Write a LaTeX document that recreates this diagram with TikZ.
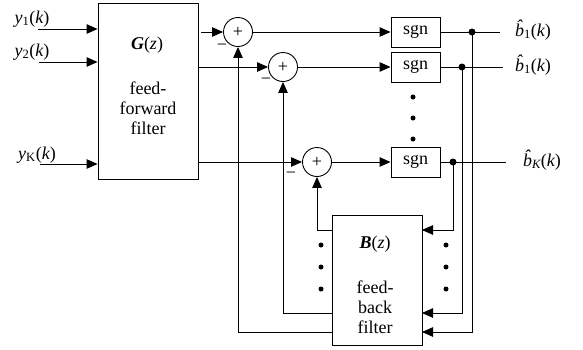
\documentclass[tikz,border=0pt]{standalone}
\usepackage{fontspec}
\setmainfont{Liberation Serif}
\usetikzlibrary{arrows.meta}
\begin{document}
\begin{tikzpicture}[x=1pt,y=-1pt,
  font=\fontsize{18}{20}\selectfont,
  ln/.style={line width=0.9pt},
  arr/.style={ln,-{Triangle[length=11pt,width=9.5pt]}},
  block/.style={draw,line width=0.9pt,inner sep=0pt},
  sumnode/.style={draw,circle,minimum size=29pt,inner sep=0pt,line width=0.9pt},
  tap/.style={circle,fill,inner sep=0pt,minimum size=7pt},
  vdot/.style={circle,fill,inner sep=0pt,minimum size=5pt},
  lbl/.style={inner sep=0pt}]
\useasboundingbox (0,0) rectangle (583,349);

% blocks
\node[block,minimum width=100pt,minimum height=176pt] (G) at (148,91) {};
\node[block,minimum width=90pt,minimum height=130pt] (B) at (377,280) {};
\node[lbl] (Gt) at (147,45) {{\bfseries\itshape G}({\itshape z})};
\node[lbl,align=center] (Gf) at (148,108) {feed-\\forward\\filter};
\node[lbl] (Bt) at (375,244) {{\bfseries\itshape B}({\itshape z})};
\node[lbl,align=center] (Bf) at (375,307) {feed-\\back\\filter};

% summing junctions
\node[sumnode] (s1) at (238,32) {+};
\node[sumnode] (s2) at (283,67) {+};
\node[sumnode] (s3) at (317,162) {+};
\node[lbl] (m1) at (222,47) {−};
\node[lbl] (m2) at (266,81) {−};
\node[lbl] (m3) at (291,175) {−};

% sgn blocks
\node[block,minimum width=49pt,minimum height=30pt] (g1) at (415.5,32) {sgn};
\node[block,minimum width=49pt,minimum height=30pt] (g2) at (415.5,67) {sgn};
\node[block,minimum width=49pt,minimum height=30pt] (g3) at (415.5,162) {sgn};

% taps
\node[tap] (t1) at (472,32) {};
\node[tap] (t2) at (462,67) {};
\node[tap] (t3) at (453,162) {};

% inputs
\coordinate (i1) at (38,29);
\coordinate (i2) at (39,62);
\coordinate (i3) at (40,164);
\draw[arr] (i1) -- (i1 -| G.west);
\draw[arr] (i2) -- (i2 -| G.west);
\draw[arr] (i3) -- (i3 -| G.west);
\node[lbl] (y1) at (32,19) {{\itshape y}\textsubscript{1}({\itshape k})};
\node[lbl] (y2) at (32,52) {{\itshape y}\textsubscript{2}({\itshape k})};
\node[lbl] (y3) at (37,155) {{\itshape y}\textsubscript{K}({\itshape k})};

% G outputs to sums
\coordinate (o1) at (201,32);
\draw[arr] (o1) -- (s1);
\draw[arr] (G.east |- s2) -- (s2);
\draw[arr] (G.east |- s3) -- (s3);

% sums to sgn
\draw[arr] (s1) -- (g1);
\draw[arr] (s2) -- (g2);
\draw[arr] (s3) -- (g3);

% outputs
\coordinate (e1) at (500,32);
\coordinate (e2) at (503,67);
\coordinate (e3) at (506,162);
\draw[ln] (g1) -- (e1);
\draw[ln] (g2) -- (e2);
\draw[ln] (g3) -- (e3);
\node[lbl] (b1) at (533,30) {{\itshape\^{b}}\textsubscript{1}({\itshape k})};
\node[lbl] (b2) at (533,65) {{\itshape\^{b}}\textsubscript{1}({\itshape k})};
\node[lbl] (b3) at (542,160) {{\itshape\^{b}}\textsubscript{\itshape K}({\itshape k})};

% feedback into B
\coordinate (bi3) at (422,230);
\coordinate (bi2) at (422,313);
\coordinate (bi1) at (422,332);
\draw[arr] (t3.center) |- (bi3);
\draw[arr] (t2.center) |- (bi2);
\draw[arr] (t1.center) |- (bi1);

% B outputs to sums
\coordinate (bo3) at (332,230);
\coordinate (bo2) at (332,313);
\coordinate (bo1) at (332,332);
\draw[arr] (bo3) -| (s3.south);
\draw[arr] (bo2) -| (s2.south);
\draw[arr] (bo1) -| (s1.south);

% ellipsis dots
\foreach \yy/\k in {97/a,118/b,139/c} \node[vdot] (d\k) at (413,\yy) {};
\foreach \yy/\k in {245/a,267/b,289/c} \node[vdot] (l\k) at (321,\yy) {};
\foreach \yy/\k in {245/a,267/b,289/c} \node[vdot] (r\k) at (446,\yy) {};
\end{tikzpicture}
\end{document}
